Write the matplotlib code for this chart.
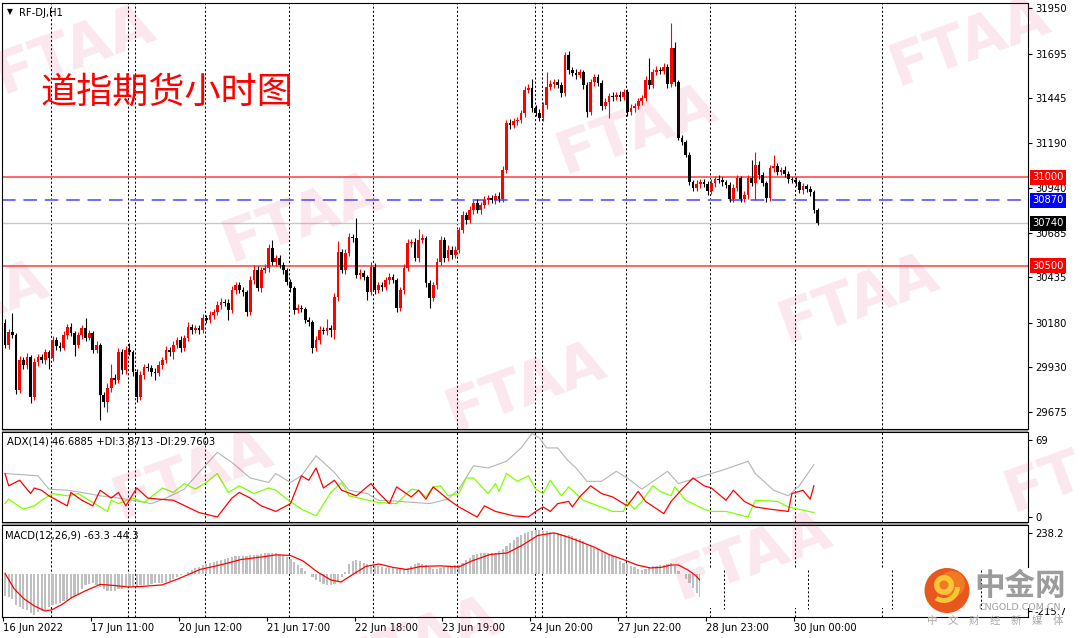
import numpy as np
import matplotlib
matplotlib.use("Agg")
import matplotlib.pyplot as plt
from matplotlib.patches import Rectangle, Circle, Wedge

plt.rcParams['font.family'] = ['DejaVu Sans', 'Noto Sans CJK SC']

# ----------------------------
# DATA  (DJ futures, H1 bars)
# ----------------------------
first_open = 30180
closes = [
    30055, 30128, 30111, 29801, 29970, 29942, 29987, 29762, 29959, 29987,
    29970, 30015, 29981, 30083, 30049, 30038, 30111, 30156, 30122, 30055,
    30111, 30150, 30094, 30122, 30027, 30055, 29773, 29734, 29813, 29869,
    29858, 30015, 29914, 30027, 30015, 29903, 29762, 29886, 29931, 29925,
    29903, 29897, 29942, 29970, 30027, 30015, 30055, 30083, 30038, 30094,
    30156, 30139, 30150, 30139, 30207, 30196, 30224, 30241, 30280, 30297,
    30291, 30252, 30364, 30392, 30364, 30353, 30241, 30421, 30477, 30376,
    30477, 30488, 30601, 30522, 30544, 30505, 30477, 30409, 30376, 30252,
    30263, 30258, 30196, 30184, 30038, 30083, 30139, 30133, 30150, 30139,
    30325, 30578, 30477, 30573, 30663, 30657, 30449, 30460, 30438, 30353,
    30494, 30364, 30392, 30381, 30421, 30438, 30421, 30263, 30364, 30488,
    30629, 30635, 30544, 30646, 30657, 30404, 30319, 30392, 30522, 30646,
    30544, 30590, 30561, 30590, 30702, 30787, 30758, 30815, 30854, 30815,
    30843, 30871, 30882, 30871, 30894, 30877, 31040, 31305, 31293, 31316,
    31321, 31361, 31490, 31502, 31389, 31361, 31333, 31406, 31507, 31524,
    31535, 31518, 31473, 31687, 31603, 31586, 31575, 31592, 31518, 31366,
    31535, 31563, 31530, 31400, 31423, 31457, 31451, 31462, 31450, 31479,
    31366, 31389, 31400, 31428, 31445, 31547, 31518, 31592, 31603, 31598,
    31620, 31524, 31727, 31535, 31220, 31198, 31124, 30972, 30939, 30961,
    30972, 30961, 30922, 30967, 30989, 30984, 30972, 30955, 30877, 30939,
    30995, 30877, 30899, 30995, 30967, 31068, 31012, 30967, 30882, 31051,
    31062, 31029, 31040, 31017, 30989, 30984, 30972, 30927, 30950, 30933,
    30916, 30815, 30740,
]
# wick lengths (points) above / below the candle body
wick_up = [
    20, 15, 107, 10, 25, 15, 20, 10, 20, 15,
    15, 20, 10, 25, 15, 20, 25, 15, 20, 10,
    15, 20, 57, 15, 10, 20, 10, 15, 30, 80,
    20, 25, 15, 20, 40, 10, 15, 20, 15, 20,
    15, 25, 20, 15, 20, 15, 25, 15, 20, 15,
    30, 15, 20, 15, 25, 15, 20, 15, 25, 20,
    15, 20, 25, 15, 20, 15, 10, 25, 30, 20,
    15, 20, 20, 45, 15, 20, 15, 10, 15, 10,
    20, 15, 10, 15, 10, 25, 20, 15, 50, 15,
    20, 60, 15, 20, 25, 15, 110, 20, 15, 10,
    30, 20, 15, 20, 15, 20, 15, 10, 20, 25,
    20, 15, 20, 60, 25, 10, 15, 20, 25, 20,
    15, 25, 20, 20, 15, 20, 15, 20, 15, 20,
    15, 20, 15, 20, 15, 20, 20, 15, 20, 15,
    20, 15, 25, 20, 53, 15, 20, 15, 85, 20,
    15, 20, 15, 15, 20, 15, 20, 15, 10, 15,
    20, 15, 20, 15, 20, 15, 20, 15, 20, 15,
    15, 20, 15, 20, 15, 20, 123, 15, 20, 15,
    20, 15, 141, 34, 10, 15, 10, 15, 10, 20,
    15, 20, 15, 20, 15, 20, 15, 10, 15, 20,
    15, 10, 20, 15, 100, 74, 20, 15, 10, 15,
    62, 20, 15, 20, 15, 10, 15, 10, 15, 10,
    15, 10, 10,
]
wick_dn = [
    15, 20, 15, 20, 15, 20, 25, 35, 15, 20,
    15, 20, 60, 15, 20, 15, 10, 20, 15, 60,
    15, 20, 15, 10, 20, 15, 140, 30, 57, 20,
    20, 15, 25, 20, 15, 20, 28, 15, 20, 15,
    20, 40, 15, 20, 15, 20, 40, 15, 20, 15,
    15, 20, 15, 20, 15, 20, 15, 20, 15, 20,
    15, 55, 15, 20, 15, 20, 25, 15, 20, 15,
    20, 15, 20, 15, 20, 15, 20, 15, 20, 25,
    15, 20, 15, 20, 28, 15, 20, 15, 20, 40,
    50, 20, 15, 20, 15, 20, 15, 20, 15, 45,
    15, 20, 15, 20, 15, 20, 15, 20, 15, 20,
    15, 20, 15, 20, 15, 20, 56, 15, 20, 15,
    20, 15, 20, 15, 20, 15, 20, 15, 20, 15,
    20, 15, 20, 15, 20, 15, 20, 15, 20, 15,
    20, 15, 20, 15, 20, 15, 20, 15, 20, 15,
    20, 15, 20, 15, 20, 15, 20, 15, 20, 25,
    15, 20, 15, 20, 15, 90, 20, 15, 20, 15,
    20, 15, 20, 15, 20, 15, 20, 15, 20, 15,
    20, 22, 15, 20, 10, 15, 10, 15, 20, 15,
    20, 15, 20, 15, 20, 15, 20, 15, 17, 20,
    15, 20, 15, 20, 15, 96, 20, 15, 20, 15,
    20, 15, 20, 15, 20, 15, 20, 15, 20, 15,
    20, 15, 10,
]

# ADX(14) lines, (bar, value) at turning points
adx_x = [0, 9, 12, 17, 21, 26, 31, 35, 40, 44, 49, 53, 58, 62, 67, 72, 74, 78, 81, 85,
         90, 94, 99, 102, 108, 116, 121, 124, 128, 132, 137, 141, 144, 146, 148, 151,
         154, 156, 159, 163, 167, 170, 174, 181, 184, 190, 196, 203, 205, 210, 214, 217, 221]
adx_v = [39, 37, 25, 24, 22, 19, 17, 15, 12, 17, 25, 40, 58, 49, 35, 31, 39, 31, 37, 55,
         40, 24, 21, 15, 14, 12, 16, 25, 46, 44, 50, 62, 75, 71, 62, 62,
         50, 44, 32, 32, 41, 35, 25, 41, 30, 36, 42, 50, 39, 24, 19, 28, 47]
pdi_x = [0, 1, 5, 8, 10, 13, 17, 20, 24, 28, 29, 31, 35, 38, 43, 46, 49, 52, 55, 58,
         61, 64, 68, 72, 74, 77, 81, 85, 89, 92, 94, 98, 102, 107, 111, 113, 115, 117,
         119, 121, 124, 126, 128, 132, 134, 135, 137, 140, 143, 145, 147, 149, 152, 154,
         158, 162, 166, 169, 170, 172, 174, 177, 179, 182, 183, 186, 191, 193, 197, 203,
         205, 211, 214, 221]
pdi_v = [12, 16, 7, 10, 15, 21, 19, 21, 13, 5, 15, 12, 17, 13, 26, 22, 30, 25, 31, 39,
         22, 28, 21, 26, 24, 16, 7, 1, 22, 31, 19, 16, 13, 12, 25, 24, 18, 27,
         28, 19, 21, 35, 35, 21, 30, 23, 39, 32, 37, 25, 21, 33, 19, 27,
         15, 10, 5, 5, 14, 7, 14, 28, 23, 19, 27, 15, 7, 5, 5, 0,
         15, 14, 9, 4]
mdi_x = [0, 1, 4, 7, 8, 10, 12, 17, 18, 21, 24, 26, 29, 31, 33, 36, 39, 42, 46, 53,
         58, 62, 64, 67, 70, 74, 78, 81, 83, 85, 87, 90, 92, 96, 100, 102, 105, 107,
         111, 113, 115, 117, 121, 124, 129, 131, 134, 139, 143, 145, 147, 149, 151, 154,
         155, 157, 160, 163, 166, 170, 173, 175, 180, 182, 185, 188, 191, 193, 197, 199,
         202, 205, 209, 214, 215, 218, 220, 221]
mdi_v = [39, 28, 33, 21, 26, 24, 19, 10, 22, 15, 10, 24, 17, 22, 10, 26, 17, 16, 15, 4,
         0, 17, 22, 17, 10, 5, 12, 37, 33, 44, 26, 33, 24, 19, 30, 22, 12, 27,
         18, 24, 16, 27, 16, 9, 0, 10, 5, 1, 0, 5, 9, 5, 12, 14,
         9, 18, 28, 21, 18, 10, 23, 14, 3, 14, 25, 35, 28, 26, 15, 24,
         14, 9, 7, 5, 21, 24, 16, 28]

# MACD(12,26,9): histogram per bar, signal line at turning points
macd_hist = [
    -128, -137, -145, -180, -195, -203, -212, -228, -238, -222,
    -215, -212, -195, -182, -176, -168, -158, -150, -140, -128,
    -116, -90, -66, -58, -55, -62, -76, -90, -99, -99,
    -97, -90, -86, -78, -76, -76, -70, -64, -64, -63,
    -58, -55, -55, -55, -48, -42, -30, -20, -8, 2,
    12, 22, 33, 42, 52, 58, 64, 70, 76, 82,
    88, 93, 99, 104, 105, 105, 105, 108, 111, 113,
    117, 120, 122, 123, 122, 118, 113, 100, 88, 68,
    52, 36, 18, 0, -18, -35, -48, -58, -62, -64,
    -56, -47, -20, 10, 60, 78, 81, 74, 66, 58,
    52, 48, 44, 40, 37, 35, 32, 28, 26, 30,
    35, 45, 55, 64, 60, 52, 38, 26, 30, 35,
    40, 44, 47, 50, 52, 66, 81, 95, 110, 115,
    119, 122, 122, 122, 122, 135, 148, 163, 180, 198,
    215, 225, 236, 244, 250, 255, 256, 252, 247, 244,
    240, 236, 233, 229, 225, 218, 211, 204, 190, 177,
    163, 153, 143, 134, 125, 116, 106, 92, 77, 64,
    56, 47, 38, 30, 23, 30, 38, 44, 47, 50,
    52, 56, 62, 45, 18, 0, -28, -50, -80, -110,
    -137,
]
sig_x = [0, 2.5, 5.2, 8, 10.9, 12.8, 15.6, 18.3, 22.1, 26, 29.8, 33.6, 37.2, 42.9, 47.5,
         53.3, 57.1, 61, 64.5, 70.2, 74, 77.9, 81.4, 85.2, 89, 91.8, 94.8, 98.6, 102.2,
         106, 109.8, 113.7, 119.1, 124, 127.6, 132.5, 137.2, 141, 145.6, 150, 153.8,
         157.4, 161.2, 165, 168.9, 172.7, 176.2, 179.2, 182, 184, 186.6, 188.5, 190.4]
sig_v = [4, -87, -145, -186, -215, -209, -177, -137, -97, -61, -67, -76, -73, -64, -27,
         26, 44, 64, 84, 99, 111, 108, 76, 14, -35, -47, -6, 44, 58,
         38, 26, 44, 47, 41, 76, 113, 122, 163, 224, 239, 215,
         186, 154, 113, 84, 52, 35, 38, 52, 52, 23, -6, -47]

# day separators (bar positions) and time axis labels
separators = [12.6, 33.6, 35.5, 54.6, 77.6, 100.6, 123.5, 144.8, 146.7, 169.7, 192.6, 215.8, 239.6]
label_bars = [-0.5, 23.5, 47.5, 71.5, 95.5, 119.5, 143.5, 167.5, 191.5, 215.5]
date_labels = ['16 Jun 2022', '17 Jun 11:00', '20 Jun 12:00', '21 Jun 17:00', '22 Jun 18:00',
               '23 Jun 19:00', '24 Jun 20:00', '27 Jun 22:00', '28 Jun 23:00', '30 Jun 00:00']
price_ticks = [31950, 31695, 31445, 31190, 30940, 30685, 30435, 30180, 29930, 29675]
levels = [31000, 30870, 30740, 30500]
level_colors = ['#ff0000', '#0000ff', '#000000', '#ff0000']

# ----------------------------
# FIGURE / PANELS
# ----------------------------
W, H = 1080, 638
fig = plt.figure(figsize=(W / 100, H / 100), dpi=100)
fig.patch.set_facecolor('white')


def add_panel(top, bottom):
    return fig.add_axes([2 / W, 1 - bottom / H, 1026 / W, (bottom - top) / H])


ax = add_panel(3, 429)
ax_adx = add_panel(432, 522)
ax_macd = add_panel(525, 617)

for a in (ax, ax_adx, ax_macd):
    a.set_xlim(-0.82, 279.5)
    a.yaxis.tick_right()
    a.tick_params(axis='y', direction='out', length=3, width=0.8, pad=2,
                  labelsize=7.2, colors='black')
    a.tick_params(axis='x', length=0, labelbottom=False)
    for s in a.spines.values():
        s.set_linewidth(0.8)
        s.set_color('black')
    for sx in separators:
        a.axvline(sx, color='black', lw=0.75, ls=(0, (2, 2)), zorder=1)

# ----------------------------
# CANDLES
# ----------------------------
x = np.arange(len(closes))
c = np.array(closes, float)
o = np.array([first_open] + closes[:-1], float)
body_top = np.maximum(o, c)
body_bot = np.minimum(o, c)
hi = body_top + np.array(wick_up)
lo = body_bot - np.array(wick_dn)
col = np.where(c >= o, '#ff0000', '#000000')

ax.vlines(x, lo, hi, colors=col, lw=0.8, zorder=3)
ax.bar(x, np.maximum(body_top - body_bot, 5), bottom=body_bot, width=0.75,
       color=col, lw=0, zorder=4)

ax.set_ylim(29582, 31980)
ax.set_yticks(price_ticks)
ax.set_yticklabels([str(p) for p in price_ticks])

ax.axhline(31000, color='#ff5a5a', lw=1.3, zorder=2)
ax.axhline(30500, color='#ff5a5a', lw=1.3, zorder=2)
ax.axhline(30870, color='#6e6eff', lw=1.4, dashes=(7, 4), zorder=2)
ax.axhline(30740, color='#c8c8c8', lw=1.0, zorder=2)

for p, fc in zip(levels, level_colors):
    ax.text(1.0039, p, str(p), transform=ax.get_yaxis_transform(), ha='left', va='center',
            fontsize=7.2, color='white', zorder=6, clip_on=False,
            bbox=dict(boxstyle='square,pad=0.25', fc=fc, ec='none'))

# ----------------------------
# ADX
# ----------------------------
ax_adx.plot(adx_x, adx_v, color='#b4b4b4', lw=0.8, zorder=3)
ax_adx.plot(pdi_x, pdi_v, color='#7fff00', lw=0.9, zorder=3)
ax_adx.plot(mdi_x, mdi_v, color='#ff0000', lw=0.9, zorder=3)
ax_adx.set_ylim(-4.5, 76.3)
ax_adx.set_yticks([69, 0])
ax_adx.set_yticklabels(['69', '0'])

# ----------------------------
# MACD
# ----------------------------
ax_macd.bar(np.arange(len(macd_hist)), macd_hist, width=0.6, color='#c0c0c0', lw=0, zorder=2)
ax_macd.plot(sig_x, sig_v, color='#ff0000', lw=0.9, zorder=3)
ax_macd.set_ylim(-250.6, 284.8)
ax_macd.set_yticks([238.2, 0, -215.7])
ax_macd.set_yticklabels(['238.2', '0.00', '-215.7'])
ax_macd.set_xticks(label_bars)
ax_macd.set_xticklabels(date_labels, ha='left')
ax_macd.tick_params(axis='x', length=3, width=0.8, direction='out', labelbottom=True,
                    labelsize=7.2, pad=1.5)

# ----------------------------
# OVERLAY (pixel coords): texts, watermarks, logo
# ----------------------------
ov = fig.add_axes([0, 0, 1, 1], zorder=10)
ov.set_xlim(0, W)
ov.set_ylim(H, 0)
ov.axis('off')

# gray bars between panels
ov.add_patch(Rectangle((2, 429.5), 1026, 2.5, fc='#9b9b9b', ec='none', zorder=1))
ov.add_patch(Rectangle((2, 522.5), 1026, 2.5, fc='#9b9b9b', ec='none', zorder=1))

ov.text(7, 12, '\u25bc', fontsize=5.5, va='center', ha='left')
ov.text(19, 12.5, 'RF-DJ,H1', fontsize=7.2, va='center', ha='left')
ov.text(40, 93, '道指期货小时图', fontsize=26, color='#ff0000', va='center', ha='left',
        family=['Noto Sans CJK SC', 'DejaVu Sans'], zorder=9)
ov.text(7, 441.5, 'ADX(14) 46.6885 +DI:3.8713 -DI:29.7603', fontsize=7.2, va='center', ha='left')
ov.text(5, 535.5, 'MACD(12,26,9) -63.3 -44.3', fontsize=7.2, va='center', ha='left')

# pasted logo block
ov.add_patch(Rectangle((700, 568), 380, 40, fc='white', ec='none', zorder=3))
for sx in [724, 808, 892, 981]:
    ov.plot([sx, sx], [570, 609], color='black', lw=0.75, ls=(0, (2, 2)), zorder=4)
ov.add_patch(Circle((947, 590.5), 22.5, fc='#e8571e', ec='none', zorder=5))
ov.add_patch(Circle((952, 584), 13, fc='#ef7a22', ec='none', zorder=5))
ov.add_patch(Wedge((944, 585), 10, 0, 360, width=5.5, fc='#f8c537', ec='none', zorder=6))
ov.add_patch(Wedge((944, 587), 16, 0, 125, width=5, fc='#f8c537', ec='none', zorder=6))
ov.text(1020, 586, '中金网', fontsize=22, fontweight='bold', color='#9c9c9c', ha='center',
        va='center', family=['Noto Sans CJK SC', 'DejaVu Sans'], zorder=6)
ov.text(1020, 607, 'CNGOLD.COM.CN', fontsize=6.8, color='#a0a0a0', ha='center', va='center',
        zorder=6)
ov.text(995, 621, '中\u3000文\u3000财\u3000经\u3000新\u3000媒\u3000体', fontsize=7.6,
        color='#a8a8a8', ha='center', va='center',
        family=['Noto Sans CJK SC', 'DejaVu Sans'], zorder=6)

# FTAA watermarks
for wx, wy in [(75, 50), (970, 42), (637, 130), (303, 218), (-31, 306),
               (859, 299), (526, 387), (193, 475), (1085, 468), (752, 556), (420, 642)]:
    ov.text(wx, wy, 'FTAA', rotation=20, rotation_mode='anchor', ha='center', va='center',
            fontsize=42, fontweight='bold', color='#e64678', alpha=0.13, zorder=8)

fig.savefig('out.png', dpi=100)
